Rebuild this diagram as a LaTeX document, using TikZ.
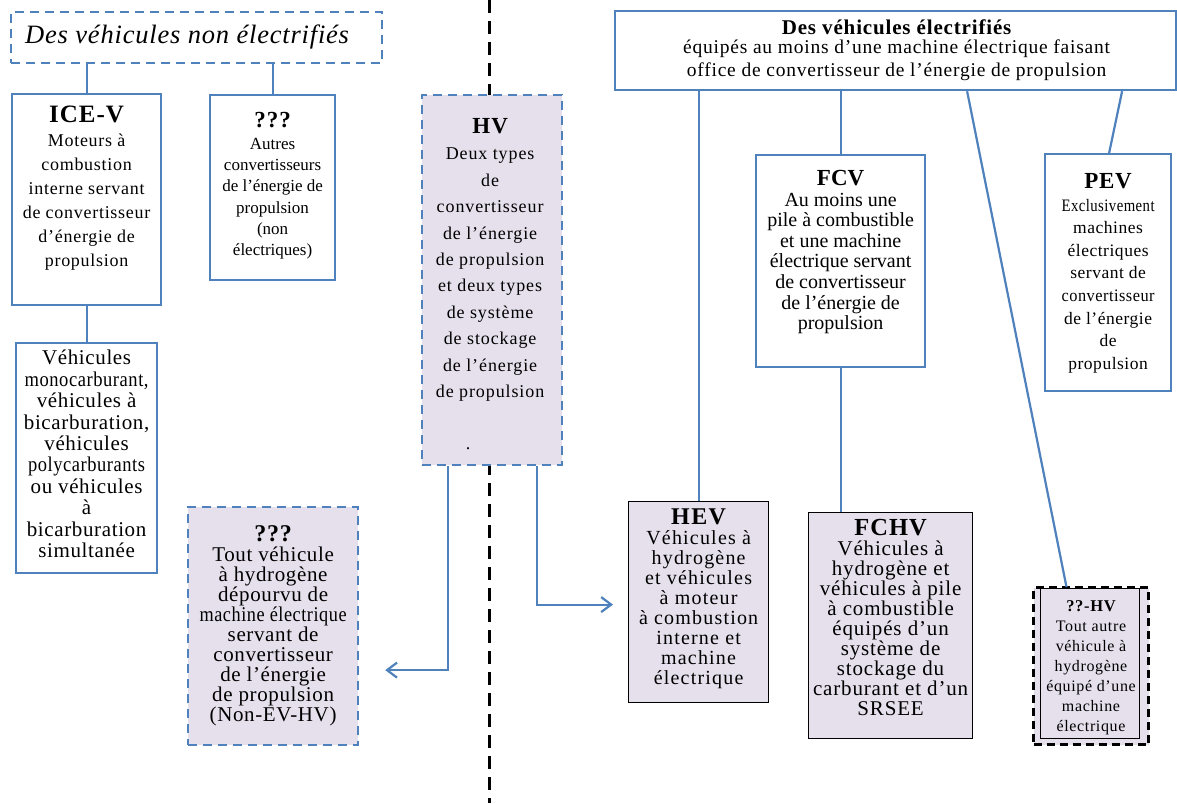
\documentclass[tikz,border=0pt]{standalone}
\usepackage{fontspec}
\setmainfont{Liberation Serif}
\usepackage{graphicx}
\usetikzlibrary{arrows.meta,calc}
\definecolor{wblue}{RGB}{79,129,189}
\definecolor{lav}{RGB}{229,224,236}
\newcommand\myfs[2]{\fontsize{#1}{#2}\selectfont}
\newcommand\mylsp[1]{\addfontfeature{LetterSpace=#1}}
\newcommand\myfit[2]{\resizebox{#1}{\height}{#2}}
\AtBeginDocument{\lineskiplimit=-100pt\relax}
\begin{document}
\begin{tikzpicture}[x=1pt,y=-1pt,
  bluebox/.style={draw=wblue, line width=2.2pt, fill=white, inner sep=0pt, anchor=north west},
  bluedash/.style={draw=wblue, line width=2.2pt, dash pattern=on 9pt off 6pt, inner sep=0pt, anchor=north west},
  hvbox/.style={bluedash, fill=lav},
  blackbox/.style={draw=black, line width=1.2pt, fill=lav, inner sep=0pt, anchor=north west},
  blackdash/.style={draw=black, line width=3pt, dash pattern=on 8pt off 5pt, fill=lav, inner sep=0pt, anchor=north west},
  txt/.style={align=center, inner sep=0pt, anchor=north},
  link/.style={draw=wblue, line width=2.2pt},
  arr/.style={link, -{Straight Barb[length=10pt,width=15pt]}},
  divider/.style={draw=black, line width=3pt, dash pattern=on 13pt off 8pt},
]
\fill[white] (0,0) rectangle (1177,803);
\useasboundingbox (0,0) rectangle (1177,803);

% divider
\coordinate (divtop) at (489,0);
\coordinate (divbot) at (489,803);
\draw[divider] (divtop) -- (divbot);

% left side
\node[bluedash, minimum width=371pt, minimum height=51pt] (nonelec) at (10,11) {};
\node[inner sep=0pt, anchor=center, font=\myfs{26.5}{30}\itshape\mylsp{3}] (nonelecT) at ([xshift=-9.5pt,yshift=1pt]nonelec.center) {Des véhicules non électrifiés};

\node[bluebox, minimum width=149pt, minimum height=211pt] (ice) at (11,93) {};
\node[txt, font=\myfs{18}{24}\mylsp{4}] (iceT) at ([yshift=-13pt]ice.north)
 {{\myfs{25}{24}\bfseries ICE-V}\\Moteurs à\\combustion\\interne servant\\de convertisseur\\d’énergie de\\propulsion};

\node[bluebox, minimum width=125pt, minimum height=185pt] (autres) at (209,94) {};
\node[txt, font=\myfs{17}{21.3}] (autresT) at ([yshift=-18.5pt]autres.north)
 {{\myfs{23}{21.3}\bfseries\mylsp{4}???}\\Autres\\convertisseurs\\de l’énergie de\\propulsion\\(non\\électriques)};

\node[bluebox, minimum width=141pt, minimum height=230pt] (veh) at (15,342) {};
\node[txt, font=\myfs{21}{21.4}\mylsp{3}] (vehT) at ([yshift=-8pt]veh.north)
 {Véhicules\\\myfit{124pt}{monocarburant,}\\véhicules à\\bicarburation,\\véhicules\\\myfit{117pt}{polycarburants}\\ou véhicules\\à\\bicarburation\\simultanée};

\node[hvbox, minimum width=140pt, minimum height=370pt] (hv) at (421,94) {};
\node[txt, font=\myfs{18}{26.4}\mylsp{5}] (hvT) at ([xshift=-2pt,yshift=-24.3pt]hv.north)
 {{\myfs{23}{26.4}\bfseries HV}\\Deux types\\de\\convertisseur\\de l’énergie\\de propulsion\\et deux types\\de système\\de stockage\\de l’énergie\\de propulsion};
\node[inner sep=0pt, anchor=base, font=\myfs{18}{20}] (hvdot) at (468,449) {.};

\node[hvbox, minimum width=170pt, minimum height=238pt] (nonev) at (187,506) {};
\node[txt, font=\myfs{21}{20}\mylsp{3}] (nonevT) at ([yshift=-19pt]nonev.north)
 {{\myfs{24}{20}\bfseries ???}\\Tout véhicule\\à hydrogène\\dépourvu de\\\myfit{147pt}{machine électrique}\\servant de\\convertisseur\\de l’énergie\\de propulsion\\(Non-EV-HV)};

% right side
\node[bluebox, minimum width=561pt, minimum height=79pt] (elec) at (614,10) {};
\node[txt, font=\myfs{19.5}{21}\mylsp{4}] (elecT) at ([xshift=1pt,yshift=-9.3pt]elec.north)
 {{\myfs{21}{21}\bfseries Des véhicules électrifiés}\\[-1.8pt]équipés au moins d’une machine électrique faisant\\[2pt]office de convertisseur de l’énergie de propulsion};

\node[bluebox, minimum width=169pt, minimum height=212pt] (fcv) at (755,154) {};
\node[txt, font=\myfs{20}{20.6}] (fcvT) at ([yshift=-16pt]fcv.north)
 {{\myfs{23}{20.6}\bfseries FCV}\\Au moins une\\pile à combustible\\et une machine\\électrique servant\\de convertisseur\\de l’énergie de\\propulsion};

\node[bluebox, minimum width=126pt, minimum height=237pt] (pev) at (1044,153) {};
\node[txt, font=\myfs{17.5}{22.6}\mylsp{3}] (pevT) at ([yshift=-20.3pt]pev.north)
 {{\myfs{23}{22.6}\bfseries PEV}\\\myfit{93pt}{Exclusivement}\\machines\\électriques\\servant de\\\myfit{93pt}{convertisseur}\\de l’énergie\\de\\propulsion};

\node[blackbox, minimum width=140pt, minimum height=201pt] (hev) at (628,501) {};
\node[txt, font=\myfs{20}{20}\mylsp{6}] (hevT) at ([yshift=-7.3pt]hev.north)
 {{\myfs{24}{20}\bfseries HEV}\\Véhicules à\\hydrogène\\et véhicules\\à moteur\\à combustion\\interne et\\machine\\électrique};

\node[blackbox, minimum width=164pt, minimum height=226pt] (fchv) at (808,512) {};
\node[txt, font=\myfs{21}{20}\mylsp{4}] (fchvT) at ([yshift=-7.3pt]fchv.north)
 {{\myfs{24.5}{20}\bfseries FCHV}\\Véhicules à\\hydrogène et\\véhicules à pile\\à combustible\\équipés d’un\\système de\\stockage du\\carburant et d’un\\SRSEE};

\node[blackdash, minimum width=115pt, minimum height=157pt] (hhv) at (1032,586) {};
\node[draw=black, line width=1.2pt, inner sep=0pt, anchor=north west, minimum width=99pt, minimum height=150pt] (hhvin) at (1040,588) {};
\node[txt, font=\myfs{16}{20}\mylsp{4}] (hhvT) at ([yshift=-14pt]hhv.north)
 {{\myfs{16.5}{20}\bfseries ??-HV}\\Tout autre\\véhicule à\\hydrogène\\équipé d’une\\machine\\électrique};

% connectors
\draw[link] (nonelec.south -| ice.north) -- (ice.north);
\draw[link] (nonelec.south -| autres.north) -- (autres.north);
\draw[link] (ice.south) -- (veh.north);
\draw[link] (elec.south -| hev.north) -- (hev.north);
\draw[link] (elec.south -| fcv.north) -- (fcv.north);
\draw[link] (fcv.south) -- (fcv.south |- fchv.north);
\draw[link] ([xshift=71.5pt]elec.south) -- ([xshift=-24.5pt,yshift=-1pt]hhv.north);
\draw[link] ([xshift=226.5pt]elec.south) -- ([xshift=1pt]pev.north);
\draw[arr] ([xshift=-44pt]hv.south) |- ([xshift=26pt,yshift=-44pt]nonev.east);
\draw[arr] ([xshift=45pt]hv.south) |- ([xshift=-15pt,yshift=-2.5pt]hev.west);
\end{tikzpicture}
\end{document}
